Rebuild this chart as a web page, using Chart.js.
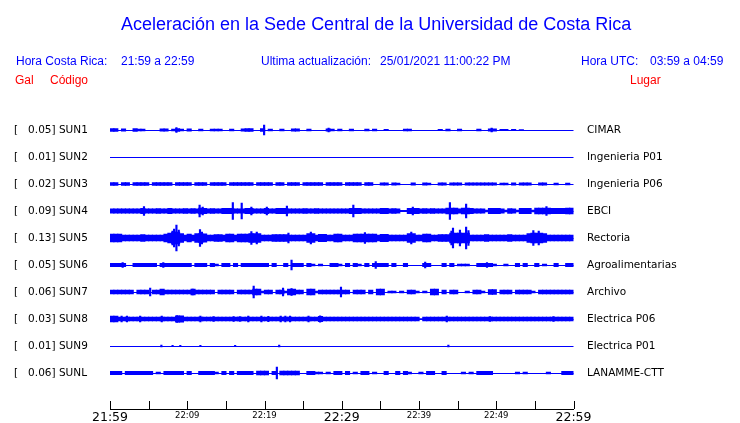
<!DOCTYPE html>
<html><head><meta charset="utf-8">
<script src="https://cdn.jsdelivr.net/npm/chart.js@4"></script>
<style>
html,body{margin:0;padding:0;background:#fff;}
#wrap{position:relative;width:740px;height:423px;overflow:hidden;background:#fff;}
#c{position:absolute;left:0;top:0;}
.t{position:absolute;white-space:pre;font-family:"Liberation Sans",Arial,sans-serif;}
.h{font-size:12px;line-height:12px;color:#0000ff;top:55px;}
.r{font-size:12px;line-height:12px;color:#ff0000;top:74px;}
</style></head><body>
<div id="wrap">
<canvas id="c" width="740" height="423"></canvas>
<div class="t" style="left:121px;top:15px;font-size:18px;line-height:18px;color:#0000ff">Aceleración en la Sede Central de la Universidad de Costa Rica</div>
<div class="t h" style="left:16px">Hora Costa Rica:</div>
<div class="t h" style="left:121px">21:59 a 22:59</div>
<div class="t h" style="left:261px">Ultima actualización:</div>
<div class="t h" style="left:380px">25/01/2021 11:00:22 PM</div>
<div class="t h" style="left:581px">Hora UTC:</div>
<div class="t h" style="left:650px">03:59 a 04:59</div>
<div class="t r" style="left:15px">Gal</div>
<div class="t r" style="left:50px">Código</div>
<div class="t r" style="left:630px">Lugar</div>
</div>
<script>
// ---- data ----
const stationCodes = ['SUN1','SUN2','SUN3','SUN4','SUN5','SUN6','SUN7','SUN8','SUN9','SUNL'];
const stationPlaces = ['CIMAR','Ingenieria P01','Ingenieria P06','EBCI','Rectoria','Agroalimentarias','Archivo','Electrica P06','Electrica P01','LANAMME-CTT'];
const peakGal = [0.05,0.01,0.02,0.09,0.13,0.05,0.06,0.03,0.01,0.06];
const xTickLabels = ['21:59','','22:09','','22:19','','22:29','','22:39','','22:49','','22:59'];

// envelope half-amplitude per 30 s window (mGal), 120 windows = 60 min
const sun1 = [
15,15,0,12,0,0,15,10,10,0, 0,0,0,12,12,0,8,15,10,0,
12,0,0,10,0,0,8,8,8,0, 0,8,0,0,12,13,13,0,0,15,
0,8,0,0,8,0,0,12,12,0, 0,8,0,0,0,0,12,10,0,8,
0,0,8,0,0,0,10,0,8,0, 0,6,0,0,0,0,8,8,0,0,
0,0,0,0,0,6,0,10,0,0, 8,0,0,0,0,8,0,0,12,12,
0,6,6,0,6,0,5,0,0,0, 0,0,0,0,0,0,0,0,0,0];
const sun2 = [
0,0,0,0,0,0,0,0,0,0, 0,0,0,0,0,0,0,0,0,0,
0,0,0,0,0,0,0,0,0,0, 0,0,0,0,0,0,0,0,0,0,
0,0,0,0,0,0,0,0,0,0, 0,0,0,0,0,0,0,0,0,0,
0,0,0,0,0,0,0,0,0,0, 0,0,0,0,0,0,0,0,0,0,
0,0,0,0,0,0,0,0,0,0, 0,0,0,0,0,0,0,0,0,0,
0,0,0,0,0,0,0,0,0,0, 0,0,0,0,0,0,0,0,0,0];
const sun3 = [
15,15,0,15,15,0,15,15,15,15, 0,15,15,15,15,15,0,15,15,15,
15,0,15,15,15,0,15,15,15,15, 0,15,15,15,15,15,15,0,15,15,
15,15,0,15,15,0,15,15,15,0, 15,15,15,15,15,0,15,15,15,15,
0,15,15,15,15,0,15,15,0,0, 12,12,0,12,10,0,0,0,12,0,
0,12,8,0,0,12,12,0,12,12, 12,0,12,12,12,12,12,12,12,12,
0,10,10,0,12,0,12,12,12,0, 0,12,12,0,0,8,0,0,8,0];
const sun4 = [
22,22,22,22,22,22,22,22,27,22, 22,22,25,22,22,27,22,22,22,25,
22,25,22,30,27,22,25,22,22,27, 27,27,22,22,22,27,27,22,22,22,
27,22,22,27,27,27,22,22,22,22, 25,22,22,25,22,22,22,22,22,22,
22,22,27,27,27,22,22,22,22,22, 27,27,22,25,22,6,6,27,27,27,
22,25,22,25,22,22,22,30,30,30, 22,28,28,27,22,22,22,8,27,27,
27,22,8,25,22,8,27,27,27,8, 30,30,30,30,27,27,27,27,28,28];
const sun5 = [
38,38,38,28,28,28,28,28,35,28, 28,28,28,28,38,48,60,60,45,28,
40,28,45,45,42,28,28,35,35,28, 40,40,28,38,38,38,45,45,45,28,
28,28,35,35,35,35,28,28,28,28, 28,45,45,28,36,36,28,28,40,40,
28,28,28,38,38,38,38,38,38,28, 36,36,28,28,28,28,28,45,45,28,
28,40,40,28,28,35,35,35,48,48, 50,50,48,28,28,28,28,33,28,28,
28,28,28,33,28,28,28,28,45,50, 50,50,45,30,30,30,30,30,30,30];
const sun6 = [
17,17,17,17,0,0,17,17,17,17, 17,17,0,17,17,17,17,17,17,17,
17,0,17,17,17,0,17,10,0,17, 17,0,17,0,17,17,17,17,17,17,
17,0,17,0,0,17,0,17,17,17, 0,17,10,0,10,0,0,17,17,10,
0,17,0,17,10,0,17,0,17,17, 17,17,0,17,0,0,17,0,0,0,
0,17,17,0,0,0,17,0,17,0, 10,10,10,0,0,17,17,17,17,10,
0,0,10,0,0,17,0,17,0,0, 17,0,10,0,0,17,0,0,17,17];
const sun7 = [
18,18,18,18,18,18,0,18,18,18, 0,18,18,28,18,18,18,18,18,18,
18,28,18,18,18,18,18,0,18,18, 18,18,0,18,18,18,18,28,28,10,
18,18,0,18,18,10,28,28,18,18, 0,28,28,10,18,18,18,18,18,18,
18,18,0,18,18,18,0,18,0,28, 28,0,10,10,0,10,0,18,18,10,
0,10,0,28,28,0,18,0,18,18, 0,0,10,0,18,18,10,0,24,24,
0,18,18,18,0,18,18,18,18,10, 0,18,18,18,18,18,18,18,18,18];
const sun8 = [
30,30,20,20,20,20,20,20,20,20, 20,20,20,20,20,20,20,32,32,20,
20,20,20,20,20,20,20,20,20,20, 20,20,20,20,20,20,20,20,20,20,
20,20,20,20,20,20,20,20,20,20, 20,20,20,20,26,20,20,20,20,20,
20,20,20,20,20,20,20,20,20,20, 20,20,20,20,20,20,20,20,20,20,
5,20,20,20,20,20,20,20,20,20, 20,20,20,20,20,20,20,20,20,20,
20,20,20,20,20,20,20,20,20,20, 20,20,20,20,20,20,20,20,20,20];
const sun9 = [
0,0,0,0,0,0,0,0,0,0, 0,0,0,0,0,0,0,0,0,0,
0,0,0,0,0,0,0,0,0,0, 0,0,0,0,0,0,0,0,0,0,
0,0,0,0,0,0,0,0,0,0, 0,0,0,0,0,0,0,0,0,0,
0,0,0,0,0,0,0,0,0,0, 0,0,0,0,0,0,0,0,0,0,
0,0,0,0,0,0,0,0,0,0, 0,0,0,0,0,0,0,0,0,0,
0,0,0,0,0,0,0,0,0,0, 0,0,0,0,0,0,0,0,0,0];
const sunL = [
17,17,17,0,17,17,17,17,17,17, 17,0,10,0,17,17,17,17,17,0,
17,0,0,17,17,17,17,10,0,17, 0,17,0,17,17,17,17,0,20,20,
20,0,17,0,20,20,20,20,20,0, 0,17,17,10,10,0,10,0,17,17,
0,17,0,10,0,17,17,0,10,0, 0,17,0,0,17,0,17,10,0,0,
10,0,17,17,0,0,17,0,0,0, 0,10,0,10,0,17,17,17,17,0,
0,0,0,0,0,10,0,10,0,0, 0,0,0,10,0,0,0,17,17,17];

// short peaks: [minute after 21:59, half-amplitude mGal]
const spikes1 = [[8.6,25],[19.95,50],[28.3,20],[49.4,20]];
const spikes2 = [];
const spikes3 = [];
const spikes4 = [[4.4,45],[11.6,60],[12.0,40],[15.9,85],[17.05,80],[18.3,40],[20.3,40],[22.9,50],[31.5,60],[39.2,40],[44.0,85],[46.1,70],[56.5,45]];
const spikes5 = [[8.1,70],[8.3,90],[8.6,130],[8.9,80],[11.65,85],[11.9,60],[18.3,65],[19.0,60],[23.1,50],[26.0,60],[33.0,55],[39.0,60],[44.2,70],[44.4,100],[45.3,80],[46.1,110],[46.4,75],[54.8,75],[55.5,70]];
const spikes6 = [[1.64,25],[6.9,25],[23.5,50],[34.4,35],[40.8,30],[48.8,25]];
const spikes7 = [[5.2,40],[10.7,30],[18.6,60],[22.4,40],[23.5,35],[29.9,50]];
const spikes8 = [[1.5,30],[2.2,28],[3.9,28],[6.7,28],[8.7,35],[11.7,28],[13.4,25],[16,25],[16.8,25],[17.9,28],[19.6,28],[20.5,26],[22.1,28],[22.7,28],[23.3,28],[25.7,30],[27.2,32],[43.6,30],[49.2,25],[57.4,25]];
const spikes9 = [[6.65,8],[8.1,6],[9.1,6],[11.7,6],[16.2,6],[21.9,10],[43.8,8]];
const spikesL = [[21.6,60]];

// ---- build ----
const envelopes = [sun1,sun2,sun3,sun4,sun5,sun6,sun7,sun8,sun9,sunL];
const spikeLists = [spikes1,spikes2,spikes3,spikes4,spikes5,spikes6,spikes7,spikes8,spikes9,spikesL];
const WINDOW_MIN = 0.5;       // minutes per envelope window
const ROW_GAL = 0.27;         // gal per trace row spacing
const BLUE = '#0000ff';
const toRow = (i, mgal) => [i - mgal / 1000 / ROW_GAL, i + mgal / 1000 / ROW_GAL];

const datasets = [];
envelopes.forEach((env, i) => {
  datasets.push({
    data: env.map((a, k) => a > 0 ? {x: (k + 0.5) * WINDOW_MIN, y: toRow(i, a)} : null).filter(Boolean),
    backgroundColor: BLUE, borderWidth: 0, grouped: false,
    barThickness: ctx => {
      const s = ctx.chart.scales.x;
      return s.getPixelForValue(WINDOW_MIN) - s.getPixelForValue(0) + 0.6;
    }
  });
  datasets.push({
    data: spikeLists[i].map(([t, a]) => ({x: t, y: toRow(i, a)})),
    backgroundColor: BLUE, borderWidth: 0, grouped: false, barThickness: 1.5
  });
});

const upTicks = {
  id: 'upTicks',
  afterDraw(chart) {
    const s = chart.scales.x, c = chart.ctx;
    c.save();
    c.strokeStyle = '#000'; c.lineWidth = 1;
    s.ticks.forEach(t => {
      const px = Math.round(s.getPixelForValue(t.value)) + 0.5;
      c.beginPath(); c.moveTo(px, s.top - 8); c.lineTo(px, s.top); c.stroke();
    });
    c.restore();
  }
};

const rowTicks = s => { s.ticks = stationCodes.map((_, i) => ({value: i})); };

new Chart(document.getElementById('c'), {
  type: 'bar',
  data: {datasets},
  plugins: [upTicks],
  options: {
    responsive: false, animation: false, devicePixelRatio: 1,
    layout: {padding: {left: 14, top: 116.5, right: 0, bottom: 0}},
    plugins: {legend: {display: false}, tooltip: {enabled: false}, title: {display: false}},
    scales: {
      x: {
        type: 'linear', min: 0, max: 60, offset: false,
        afterBuildTicks: s => { s.ticks = xTickLabels.map((_, i) => ({value: i * 5})); },
        afterFit: s => { s.height = 14; },
        grid: {display: true, drawOnChartArea: false, drawTicks: false, offset: false},
        border: {display: true, color: '#000', width: 1},
        ticks: {
          autoSkip: false, maxRotation: 0, padding: 1.5, color: '#000',
          callback: (v, i) => xTickLabels[i],
          font: ctx => ({family: 'DejaVu Sans', size: (ctx.index % 6 === 0) ? 12.5 : 8.5})
        }
      },
      y: {
        type: 'linear', position: 'left', reverse: true, min: -0.5, max: 10 + 1/3,
        afterBuildTicks: rowTicks,
        afterFit: s => { s.width = 96; },
        grid: {color: BLUE, lineWidth: 1, drawTicks: false},
        border: {display: false},
        ticks: {
          autoSkip: false, crossAlign: 'far', padding: 0, color: '#000',
          font: {family: 'DejaVu Sans', size: 10.5},
          callback: (v, i) => '[   ' + peakGal[i].toFixed(2) + '] ' + stationCodes[i]
        }
      },
      y2: {
        type: 'linear', position: 'right', reverse: true, min: -0.5, max: 10 + 1/3,
        afterBuildTicks: rowTicks,
        afterFit: s => { s.width = 166.5; },
        grid: {display: true, drawOnChartArea: false, drawTicks: true, tickLength: 13.5, color: 'rgba(0,0,0,0)'},
        border: {display: false},
        ticks: {
          autoSkip: false, padding: 0, color: '#000',
          font: {family: 'DejaVu Sans', size: 10.5},
          callback: (v, i) => stationPlaces[i]
        }
      }
    }
  }
});
</script>
</body></html>
